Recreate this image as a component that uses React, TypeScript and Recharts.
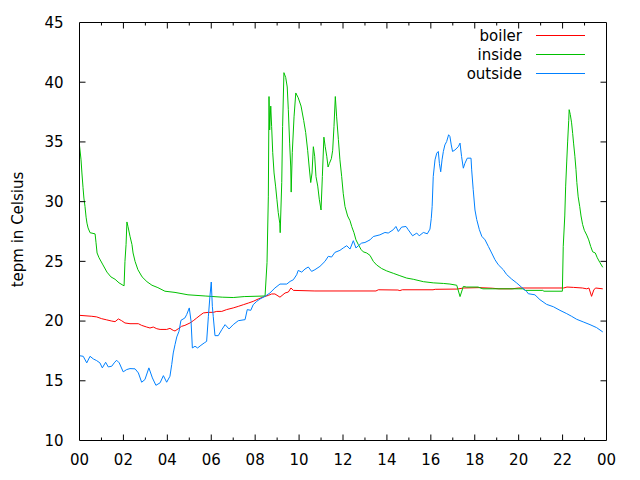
import React from 'react';
import { LineChart, Line, XAxis, YAxis, Legend } from 'recharts';

const majorHours = [0, 2, 4, 6, 8, 10, 12, 14, 16, 18, 20, 22, 24];
const allHours = [0, 1, 2, 3, 4, 5, 6, 7, 8, 9, 10, 11, 12, 13, 14, 15, 16, 17, 18, 19, 20, 21, 22, 23, 24];
const hourLabels = ['00', '02', '04', '06', '08', '10', '12', '14', '16', '18', '20', '22', '00'];
const tempTicks = [10, 15, 20, 25, 30, 35, 40, 45];

const boiler: [number, number][] = [
  [0, 20.48], [0.56, 20.4], [0.78, 20.35], [1.01, 20.2], [1.24, 20.1], [1.47, 20.0], [1.62, 19.95], [1.77, 20.18],
  [1.92, 20.03], [2.07, 19.84], [2.3, 19.78], [2.68, 19.78], [2.83, 19.64], [3.06, 19.5], [3.21, 19.42], [3.36, 19.5],
  [3.52, 19.36], [3.67, 19.3], [3.97, 19.3], [4.12, 19.39], [4.27, 19.22], [4.35, 19.17], [4.5, 19.36], [4.65, 19.56],
  [4.8, 19.64], [5.03, 19.84], [5.18, 20.03], [5.34, 20.26], [5.49, 20.48], [5.64, 20.68], [5.87, 20.73], [6.09, 20.73],
  [6.25, 20.81], [6.48, 20.81], [6.7, 20.96], [7.0, 21.1], [7.23, 21.23], [7.46, 21.37], [7.69, 21.51], [7.91, 21.65],
  [8.14, 21.85], [8.37, 22.02], [8.6, 22.15], [8.75, 22.27], [8.9, 22.27], [9.13, 22.0], [9.36, 22.35], [9.51, 22.43],
  [9.63, 22.77], [9.74, 22.57], [10.72, 22.52], [13.5, 22.52], [13.61, 22.62], [14.5, 22.6], [14.59, 22.55], [14.7, 22.62],
  [16.1, 22.62], [16.2, 22.66], [17.2, 22.68], [17.5, 22.77], [18.2, 22.8], [18.8, 22.75], [19.1, 22.7], [19.7, 22.7],
  [20.0, 22.77], [22.05, 22.77], [22.2, 22.85], [22.5, 22.82], [22.9, 22.77], [23.1, 22.7], [23.2, 22.77], [23.32, 22.07],
  [23.42, 22.6], [23.5, 22.77], [23.83, 22.7],
];

const inside: [number, number][] = [
  [0, 34.7], [0.07, 33.5], [0.11, 32.4], [0.16, 31.2], [0.2, 30.3], [0.25, 29.6], [0.3, 28.7], [0.34, 28.2], [0.39, 27.8],
  [0.48, 27.4], [0.71, 27.3], [0.75, 26.6], [0.8, 25.7], [0.89, 25.3], [1.07, 24.7], [1.25, 24.1], [1.43, 23.7], [1.62, 23.5],
  [1.8, 23.2], [1.98, 23.0], [2.03, 22.95], [2.07, 25.0], [2.12, 26.4], [2.16, 28.3], [2.21, 27.9], [2.3, 27.1], [2.39, 26.4],
  [2.44, 25.7], [2.53, 25.0], [2.66, 24.3], [2.85, 23.7], [3.07, 23.3], [3.3, 23.0], [3.57, 22.8], [3.89, 22.5], [4.35, 22.4],
  [4.94, 22.2], [5.72, 22.1], [6.5, 22.0], [7.0, 21.97], [7.5, 22.05], [8.45, 22.1], [8.54, 24.9], [8.6, 30.4], [8.63, 38.8],
  [8.66, 36.0], [8.71, 38.0], [8.75, 36.3], [8.8, 34.1], [8.86, 32.4], [8.93, 31.3], [8.99, 30.2], [9.05, 29.1], [9.12, 28.2],
  [9.14, 27.4], [9.21, 31.6], [9.25, 36.3], [9.31, 40.8], [9.39, 40.4], [9.46, 39.6], [9.51, 37.7], [9.57, 34.9], [9.62, 32.9],
  [9.64, 30.8], [9.69, 34.1], [9.77, 37.1], [9.85, 39.1], [9.96, 38.7], [10.09, 38.0], [10.21, 36.8], [10.3, 35.8], [10.39, 34.3],
  [10.46, 32.9], [10.53, 31.6], [10.59, 32.4], [10.65, 34.6], [10.71, 33.8], [10.77, 32.1], [10.85, 31.3], [10.92, 30.2],
  [11.0, 29.3], [11.06, 32.1], [11.13, 35.4], [11.19, 34.6], [11.26, 33.8], [11.32, 32.9], [11.38, 33.2], [11.47, 33.6],
  [11.53, 34.3], [11.59, 36.3], [11.65, 38.8], [11.71, 37.1], [11.79, 35.2], [11.86, 33.5], [11.94, 32.1], [12.01, 30.7],
  [12.09, 29.6], [12.21, 28.8], [12.32, 28.4], [12.4, 27.9], [12.5, 27.4], [12.59, 26.8], [12.7, 26.4], [12.82, 26.0],
  [12.92, 25.8], [13.08, 25.7], [13.23, 25.5], [13.38, 25.0], [13.53, 24.7], [13.76, 24.4], [13.99, 24.2], [14.29, 24.0],
  [14.59, 23.8], [14.9, 23.6], [15.2, 23.5], [15.66, 23.3], [16.11, 23.2], [16.57, 23.15], [16.87, 23.1], [17.18, 23.0],
  [17.33, 22.05], [17.48, 22.9], [17.63, 22.85], [18.15, 22.85], [18.37, 22.7], [20.2, 22.7], [20.3, 22.57], [21.1, 22.57],
  [21.15, 22.5], [21.99, 22.5], [22.03, 26.25], [22.1, 28.8], [22.14, 31.3], [22.19, 33.4], [22.23, 35.0], [22.28, 36.8],
  [22.3, 37.7], [22.35, 37.3], [22.41, 36.6], [22.46, 35.7], [22.5, 34.9], [22.56, 33.8], [22.61, 32.7], [22.65, 31.6],
  [22.71, 30.4], [22.78, 29.6], [22.84, 28.8], [22.91, 28.1], [22.99, 27.6], [23.1, 27.2], [23.19, 26.8], [23.28, 26.25],
  [23.37, 25.8], [23.49, 25.7], [23.58, 25.3], [23.7, 24.9], [23.83, 24.5],
];

const outside: [number, number][] = [
  [0, 17.1], [0.17, 17.05], [0.33, 16.5], [0.48, 17.05], [0.63, 16.83], [0.78, 16.69], [0.93, 16.5], [1.04, 16.08],
  [1.19, 16.55], [1.31, 16.16], [1.47, 16.22], [1.58, 16.5], [1.69, 16.72], [1.81, 16.5], [1.99, 15.75], [2.15, 15.94],
  [2.3, 16.02], [2.53, 16.0], [2.68, 15.66], [2.83, 14.88], [2.98, 15.1], [3.16, 16.08], [3.32, 15.24], [3.48, 14.62],
  [3.67, 14.83], [3.82, 15.43], [3.97, 14.88], [4.12, 15.38], [4.2, 16.36], [4.27, 17.33], [4.35, 18.03], [4.43, 18.67],
  [4.53, 19.14], [4.62, 20.06], [4.8, 20.26], [4.88, 20.54], [5.0, 21.1], [5.08, 19.98], [5.14, 17.75], [5.26, 17.89],
  [5.38, 17.75], [5.53, 17.97], [5.68, 18.17], [5.79, 18.3], [5.87, 20.4], [5.94, 22.07], [6.0, 23.27], [6.05, 21.23],
  [6.09, 20.4], [6.17, 18.78], [6.32, 18.78], [6.48, 19.28], [6.63, 19.7], [6.81, 19.34], [7.0, 19.7], [7.23, 20.03],
  [7.54, 20.12], [7.64, 20.96], [7.8, 20.9], [7.91, 21.37], [8.07, 21.65], [8.22, 21.85], [8.45, 22.07], [8.67, 22.35],
  [8.9, 22.77], [9.13, 23.1], [9.44, 23.1], [9.59, 23.32], [9.74, 23.46], [9.89, 23.88], [9.96, 24.24], [10.12, 24.1],
  [10.27, 24.36], [10.42, 24.53], [10.57, 24.16], [10.72, 24.3], [10.95, 24.58], [11.18, 25.0], [11.33, 25.42], [11.48, 25.36],
  [11.63, 25.75], [11.86, 25.92], [12.01, 26.12], [12.17, 26.31], [12.32, 26.03], [12.47, 26.73], [12.59, 26.12], [12.7, 26.31],
  [12.85, 26.53], [13.0, 26.58], [13.23, 26.8], [13.38, 27.08], [13.68, 27.22], [13.91, 27.42], [14.06, 27.37], [14.29, 27.65],
  [14.41, 27.92], [14.52, 27.5], [14.67, 27.87], [14.87, 27.92], [14.97, 27.65], [15.17, 27.14], [15.36, 27.37], [15.47, 27.14],
  [15.66, 27.42], [15.84, 27.31], [15.96, 27.7], [16.02, 28.6], [16.06, 29.6], [16.11, 32.1], [16.19, 33.5], [16.27, 34.06],
  [16.34, 34.2], [16.39, 33.2], [16.45, 32.5], [16.51, 33.5], [16.57, 34.2], [16.64, 34.75], [16.72, 35.03], [16.81, 35.6],
  [16.87, 35.45], [16.93, 34.75], [16.99, 34.2], [17.1, 34.33], [17.25, 34.6], [17.33, 34.9], [17.4, 33.78], [17.48, 32.8],
  [17.55, 33.2], [17.66, 33.64], [17.83, 33.64], [17.86, 32.66], [17.93, 31.0], [18.01, 29.3], [18.09, 28.5], [18.21, 27.65],
  [18.32, 27.1], [18.47, 26.8], [18.62, 26.25], [18.77, 25.7], [18.92, 25.14], [19.07, 24.72], [19.3, 24.3], [19.45, 23.9],
  [19.68, 23.52], [19.91, 23.19], [20.14, 22.82], [20.36, 22.49], [20.44, 22.29], [20.74, 22.2], [20.97, 21.79], [21.27, 21.4],
  [21.58, 21.2], [21.88, 20.9], [22.19, 20.62], [22.41, 20.4], [22.64, 20.15], [22.94, 19.93], [23.25, 19.7], [23.55, 19.45],
  [23.83, 19.09],
];

const seriesNames = ['boiler', 'inside', 'outside'];
const seriesColors = ['#ff0000', '#00c000', '#0080ff'];

const toPoints = (arr: [number, number][]) => arr.map(([t, v]) => ({ t, v }));

const FONT = 'DejaVu Sans';
const FS = 15;
const MAJOR = 6;
const MINOR = 3;
const TICKC = '#000';

const BottomTick = (props: any) => {
  const { x, y, payload } = props;
  const h = payload.value as number;
  const isMajor = majorHours.includes(h);
  const axisY = y - 14;
  const label = isMajor ? hourLabels[majorHours.indexOf(h)] : '';
  return (
    <g>
      {h > 0 && h < 24 && (
        <line x1={x} x2={x} y1={axisY} y2={axisY - (isMajor ? MAJOR : MINOR)} stroke={TICKC} strokeWidth={1} />
      )}
      {isMajor && (
        <text x={x} y={y} dy="0.71em" textAnchor="middle" fontFamily={FONT} fontSize={FS} fill="#000">
          {label}
        </text>
      )}
    </g>
  );
};

const TopTick = (props: any) => {
  const { x, y, payload } = props;
  const h = payload.value as number;
  if (h <= 0 || h >= 24) return <g />;
  const isMajor = majorHours.includes(h);
  return <line x1={x} x2={x} y1={y} y2={y + (isMajor ? MAJOR : MINOR)} stroke={TICKC} strokeWidth={1} />;
};

const LeftTick = (props: any) => {
  const { x, y, payload } = props;
  const v = payload.value as number;
  const axisX = x + 16;
  return (
    <g>
      {v > 10 && v < 45 && <line x1={axisX} x2={axisX + MAJOR} y1={y} y2={y} stroke={TICKC} strokeWidth={1} />}
      <text x={x} y={y} dy="0.36em" textAnchor="end" fontFamily={FONT} fontSize={FS} fill="#000">
        {v}
      </text>
    </g>
  );
};

const RightTick = (props: any) => {
  const { x, y, payload } = props;
  const v = payload.value as number;
  if (v <= 10 || v >= 45) return <g />;
  return <line x1={x} x2={x - MAJOR} y1={y} y2={y} stroke={TICKC} strokeWidth={1} />;
};

const YLabel = (props: any) => {
  const vb = props.viewBox;
  const cx = vb.x + 23;
  const cy = vb.y + vb.height / 2 - 2;
  return (
    <text
      x={cx}
      y={cy}
      transform={`rotate(-90, ${cx}, ${cy})`}
      textAnchor="middle"
      fontFamily={FONT}
      fontSize={FS}
      fill="#000"
    >
      tepm in Celsius
    </text>
  );
};

const LegendContent = (props: any) => {
  const payload = props.payload || [];
  return (
    <svg width={640} height={90} style={{ display: 'block' }}>
      {payload.map((p: any, i: number) => {
        const cy = 35.5 + 19 * i;
        const idx = seriesNames.indexOf(p.value);
        const color = idx >= 0 ? seriesColors[idx] : p.color;
        return (
          <g key={p.value}>
            <text x={522} y={cy} dy="0.35em" textAnchor="end" fontFamily={FONT} fontSize={FS} fill="#000">
              {p.value}
            </text>
            <line x1={536} x2={585} y1={cy} y2={cy} stroke={color} strokeWidth={1} />
          </g>
        );
      })}
    </svg>
  );
};

export default function App() {
  const data = [boiler, inside, outside];
  return (
    <div style={{ position: 'absolute', left: 0, top: 0, width: 640, height: 480, background: '#fff' }}>
      <LineChart
        width={640}
        height={480}
        margin={{ top: 21.5, right: 32.5, bottom: 9.5, left: 0 }}
        style={{ fontFamily: FONT }}
      >
        <XAxis
          xAxisId="b"
          dataKey="t"
          type="number"
          domain={[0, 24]}
          allowDataOverflow
          ticks={allHours}
          interval={0}
          height={30}
          tickSize={0}
          tickMargin={14}
          tickLine={false}
          axisLine={{ stroke: '#000' }}
          tick={<BottomTick />}
        />
        <XAxis
          xAxisId="t"
          orientation="top"
          dataKey="t"
          type="number"
          domain={[0, 24]}
          allowDataOverflow
          ticks={allHours}
          interval={0}
          height={1}
          tickSize={0}
          tickMargin={0}
          tickLine={false}
          axisLine={{ stroke: '#000' }}
          tick={<TopTick />}
        />
        <YAxis
          yAxisId="l"
          type="number"
          domain={[10, 45]}
          allowDataOverflow
          ticks={tempTicks}
          interval={0}
          width={79.5}
          tickSize={0}
          tickMargin={16}
          tickLine={false}
          axisLine={{ stroke: '#000' }}
          tick={<LeftTick />}
          label={<YLabel />}
        />
        <YAxis
          yAxisId="r"
          orientation="right"
          type="number"
          domain={[10, 45]}
          allowDataOverflow
          ticks={tempTicks}
          interval={0}
          width={1}
          tickSize={0}
          tickMargin={0}
          tickLine={false}
          axisLine={{ stroke: '#000' }}
          tick={<RightTick />}
        />
        <Legend
          layout="vertical"
          align="center"
          verticalAlign="middle"
          wrapperStyle={{ left: 0, top: 0, width: 640, height: 90 }}
          content={<LegendContent />}
        />
        {data.map((arr, i) => (
          <Line
            key={seriesNames[i]}
            xAxisId="b"
            yAxisId="l"
            data={toPoints(arr)}
            dataKey="v"
            name={seriesNames[i]}
            type="linear"
            stroke={seriesColors[i]}
            strokeWidth={1}
            dot={false}
            activeDot={false}
            legendType="line"
            isAnimationActive={false}
          />
        ))}
      </LineChart>
    </div>
  );
}
